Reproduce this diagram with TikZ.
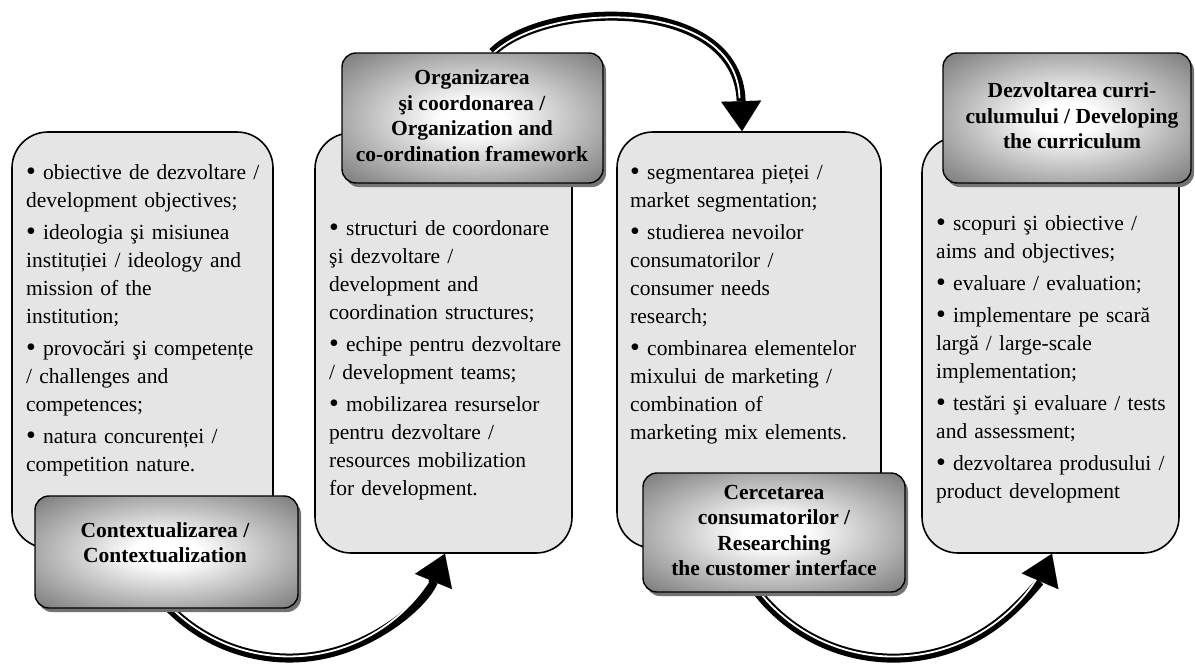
\documentclass[tikz,border=0pt]{standalone}
\usepackage{fontspec}
\setmainfont{Liberation Serif}
\usetikzlibrary{arrows.meta,shadows,calc}
\pgfdeclarelayer{bg}
\pgfsetlayers{bg,main}
\pgfdeclareradialshading{glow}{\pgfpoint{0bp}{0bp}}{color(0bp)=(white); color(6bp)=(white); color(34bp)=(black!50); color(50bp)=(black!53)}
\newcommand{\bitem}[1]{\par\noindent\hangindent=17pt\hangafter=1\makebox[17pt][l]{\strut\raisebox{-1.2pt}{\fontsize{28pt}{28pt}\selectfont\textbullet}}#1}
\tikzset{
 lbox/.style={draw, line width=1.6pt, fill=black!10, rounded corners=36pt, inner sep=0pt},
 ltext/.style={anchor=north west, inner sep=0pt, text width=240pt, align=left, font=\fontsize{21.5pt}{28pt}\selectfont},
 dbox/.style={draw, line width=1.4pt, rounded corners=14pt, shading=glow, drop shadow={shadow xshift=3pt, shadow yshift=-4pt, fill=black!55, opacity=1}, inner sep=0pt},
 dtext/.style={align=center, inner sep=0pt, font=\fontsize{21.5pt}{25.5pt}\selectfont\bfseries},
 band/.style={line width=9pt, draw=black},
 stripe/.style={line width=1.8pt, draw=white},
 headtip/.style={-{Triangle[length=30pt,width=40pt,line width=0.1pt]}}
}
\begin{document}
\begin{tikzpicture}[x=1pt,y=-1pt]
\useasboundingbox (0,0) rectangle (1195,664);
% dark title boxes (main layer)
\node[dbox, minimum width=263pt, minimum height=112pt] (d1) at (166.5,552) {};
\node[dtext] (dt1) at (165,542.5) {Contextualizarea /\\Contextualization};
\node[dbox, minimum width=261pt, minimum height=130pt] (d2) at (472.5,118) {};
\node[dtext] (dt2) at (472,115.5) {Organizarea\\şi coordonarea /\\Organization and\\co-ordination framework};
\node[dbox, minimum width=262pt, minimum height=119pt] (d3) at (774,532.5) {};
\node[dtext] (dt3) at (774,530.5) {Cercetarea\\consumatorilor /\\Researching\\the customer interface};
\node[dbox, minimum width=248pt, minimum height=130pt] (d4) at (1067,118) {};
\node[dtext] (dt4) at (1072,115.7) {Dezvoltarea curri-\\culumului / Developing\\the curriculum};
\begin{pgfonlayer}{bg}
\fill[white] (0,0) rectangle (1195,664);
% light content boxes
\node[lbox, minimum width=261pt, minimum height=416pt] (l1) at (142.5,340) {};
\node[lbox, minimum width=257pt, minimum height=420pt] (l2) at (443.5,343) {};
\node[lbox, minimum width=264pt, minimum height=416pt] (l3) at (749,340) {};
\node[lbox, minimum width=257pt, minimum height=416pt] (l4) at (1050.5,345) {};
% texts
\node[ltext] (t1) at (26,147.4) {\setlength{\parskip}{4pt}%
\bitem{obiective de dezvoltare /\\development objectives;}
\bitem{ideologia şi misiunea\\instituției / ideology and\\mission of the\\institution;}
\bitem{provocări şi competențe\\/ challenges and\\competences;}
\bitem{natura concurenței /\\competition nature.}};
\node[ltext] (t2) at (329,203.4) {\setlength{\parskip}{4pt}%
\bitem{structuri de coordonare\\şi dezvoltare /\\development and\\coordination structures;}
\bitem{echipe pentru dezvoltare\\/ development teams;}
\bitem{mobilizarea resurselor\\pentru dezvoltare /\\resources mobilization\\for development.}};
\node[ltext] (t3) at (630,147.4) {\setlength{\parskip}{4pt}%
\bitem{segmentarea pieței /\\market segmentation;}
\bitem{studierea nevoilor\\consumatorilor /\\consumer needs\\research;}
\bitem{combinarea elementelor\\mixului de marketing /\\combination of\\marketing mix elements.}};
\node[ltext] (t4) at (936,198.4) {\setlength{\parskip}{4pt}%
\bitem{scopuri şi obiective /\\aims and objectives;}
\bitem{evaluare / evaluation;}
\bitem{implementare pe scară\\largă / large-scale\\implementation;}
\bitem{testări şi evaluare / tests\\and assessment;}
\bitem{dezvoltarea produsului /\\product development}};
% arrows
\draw[band, headtip] ($(d1.south)+(3.5,0)$) arc[start angle=135, end angle=22.4, radius=168.5];
\draw[stripe] ($(d1.south)+(3.5,0)+(135:-1.6)$) arc[start angle=135, end angle=33.5, radius=166.9];
\draw[band, headtip] ($(d2.north)+(20,0)$) .. controls (545,0) and (738,-5) .. ($(l3.north)+(-7,0)$);
\draw[stripe, shorten >=33pt] ($(d2.north)+(20.4,1.5)$) .. controls (545,1.5) and (736.5,-3.5) .. ($(l3.north)+(-8.5,0)$);
\draw[band, headtip] ($(d3.south)+(-16,0)$) arc[start angle=141.6, end angle=23.3, radius=172.7];
\draw[stripe] ($(d3.south)+(-16,0)+(141.6:-1.6)$) arc[start angle=141.6, end angle=33.5, radius=171.1];
\end{pgfonlayer}
\end{tikzpicture}
\end{document}
